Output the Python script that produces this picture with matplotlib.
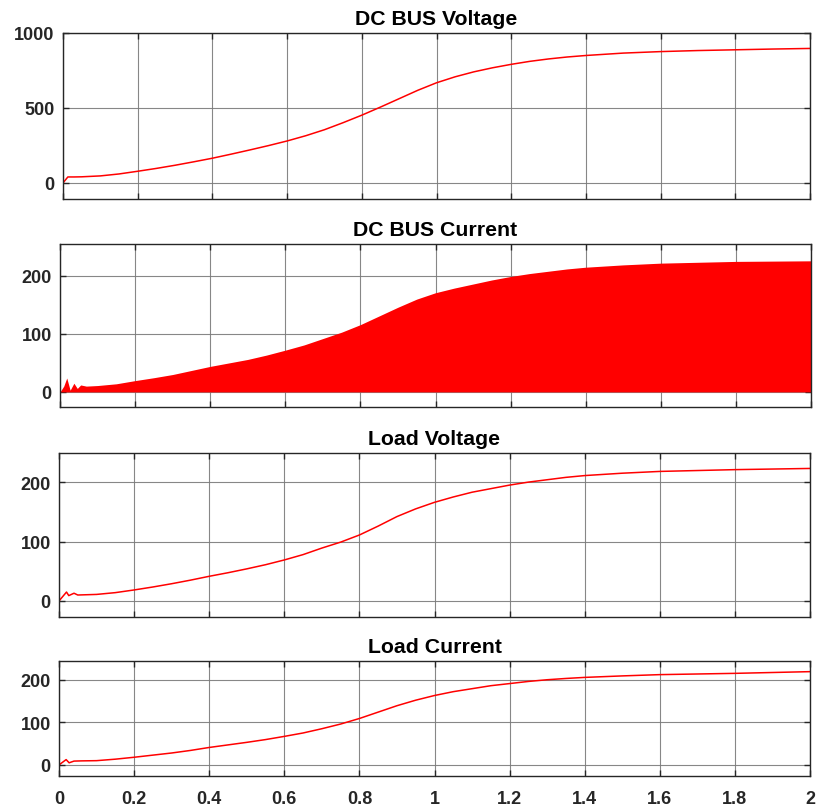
import matplotlib
matplotlib.use("Agg")
import matplotlib.pyplot as plt

# ---- data ----
t_vdc = [0, 0.013, 0.03, 0.05, 0.1, 0.15, 0.2, 0.25, 0.3, 0.35, 0.4, 0.45, 0.5, 0.55, 0.6,
         0.65, 0.7, 0.75, 0.8, 0.85, 0.9, 0.95, 1.0, 1.05, 1.1, 1.15, 1.2, 1.25, 1.3,
         1.35, 1.4, 1.5, 1.6, 1.7, 1.8, 1.9, 2.0]
v_dc = [0, 40, 40, 41, 47, 60, 78, 97, 118, 141, 165, 192, 220, 249, 280,
        315, 355, 402, 452, 506, 562, 618, 668, 708, 741, 768, 791, 811, 827,
        840, 850, 866, 876, 883, 888, 893, 897]

t_idc = [0, 0.01, 0.018, 0.027, 0.037, 0.046, 0.055, 0.07, 0.1, 0.15, 0.2, 0.25, 0.3, 0.35,
         0.4, 0.45, 0.5, 0.55, 0.6, 0.65, 0.7, 0.75, 0.8, 0.85, 0.9, 0.95, 1.0, 1.05, 1.1,
         1.15, 1.2, 1.25, 1.3, 1.35, 1.4, 1.5, 1.6, 1.8, 2.0]
i_dc_peak = [0, 10, 24, 3, 15, 6, 12, 10, 11, 14, 19.5, 24.5, 30, 37,
             44, 50, 56, 63.5, 72, 81, 92, 103, 116, 131, 146, 160, 171, 179, 186,
             193, 199, 204, 208, 212, 215, 219, 222, 225, 226]

t_vl = [0, 0.02, 0.026, 0.04, 0.05, 0.1, 0.15, 0.2, 0.25, 0.3, 0.35, 0.4, 0.45, 0.5, 0.55,
        0.6, 0.65, 0.7, 0.75, 0.8, 0.85, 0.9, 0.95, 1.0, 1.05, 1.1, 1.15, 1.2, 1.25,
        1.3, 1.35, 1.4, 1.5, 1.6, 1.8, 2.0]
v_load = [0, 15, 9, 13, 10, 11, 14, 18.5, 23.5, 29, 35, 41.5, 47.5, 54, 61,
          69, 78, 89, 99, 111, 126, 142, 155, 166, 175, 183, 189, 195, 200,
          204, 208, 211, 215, 218, 221, 223]

t_il = [0, 0.019, 0.027, 0.04, 0.06, 0.1, 0.15, 0.2, 0.25, 0.3, 0.35, 0.4, 0.45, 0.5, 0.55,
        0.6, 0.65, 0.7, 0.75, 0.8, 0.85, 0.9, 0.95, 1.0, 1.05, 1.1, 1.15, 1.2, 1.25,
        1.3, 1.35, 1.4, 1.5, 1.6, 1.8, 2.0]
i_load = [0, 12.5, 5, 9, 9.5, 10, 13.5, 18, 23, 28, 34, 41, 47, 53, 59.5,
          67, 75, 85, 96, 109, 124, 139, 152, 163, 172, 179, 186, 191, 196,
          200, 203, 205.5, 209, 212, 215, 219]

titles = ["DC BUS Voltage", "DC BUS Current", "Load Voltage", "Load Current"]
yticks = [[0, 500, 1000], [0, 100, 200], [0, 100, 200], [0, 100, 200]]
ylims = [(-107, 1000), (-26, 255), (-27, 249), (-26, 244)]
xticks = [0, 0.2, 0.4, 0.6, 0.8, 1, 1.2, 1.4, 1.6, 1.8, 2]
xticklabels = ["0", "0.2", "0.4", "0.6", "0.8", "1", "1.2", "1.4", "1.6", "1.8", "2"]

plt.rcParams['font.family'] = ['Liberation Sans', 'DejaVu Sans']
plt.rcParams['font.weight'] = 'bold'

W, H = 818, 812
fig = plt.figure(figsize=(W / 100, H / 100), dpi=100)
fig.patch.set_facecolor('white')

# pixel boxes: left, right, top, bottom
boxes = [(63, 810, 34, 200), (60, 811, 245, 408), (59, 810, 454, 618), (59, 810, 662, 777)]
axes = []
for (l, r, tp, b) in boxes:
    ax = fig.add_axes([l / W, 1 - b / H, (r - l) / W, (b - tp) / H])
    axes.append(ax)

red = '#ff0000'
axes[0].plot(t_vdc, v_dc, color=red, lw=1.1)
axes[1].fill_between(t_idc, 0, i_dc_peak, color=red, lw=0)
axes[2].plot(t_vl, v_load, color=red, lw=1.1)
axes[3].plot(t_il, i_load, color=red, lw=1.1)

for k, ax in enumerate(axes):
    ax.set_xlim(0, 2)
    ax.set_ylim(*ylims[k])
    ax.set_yticks(yticks[k])
    ax.set_xticks(xticks)
    ax.grid(True, color='#7a7a7a', lw=0.8, alpha=0.9)
    ax.set_axisbelow(True)
    for s in ax.spines.values():
        s.set_color('#262626')
        s.set_linewidth(1.0)
    ax.tick_params(direction='in', top=True, right=True, length=4, width=1,
                   color='#262626', labelsize=13, labelcolor='#262626')
    ax.tick_params(axis='y', pad=6)
    ax.tick_params(axis='x', pad=10)
    for lab in ax.get_yticklabels():
        lab.set_fontweight('bold')
    if k < 3:
        ax.set_xticklabels([])
    else:
        ax.set_xticklabels(xticklabels, fontweight='bold')
    ax.set_title(titles[k], fontsize=15.3, fontweight='bold', pad=6.5, color='black')

fig.savefig('out.png', dpi=100, facecolor='white')
